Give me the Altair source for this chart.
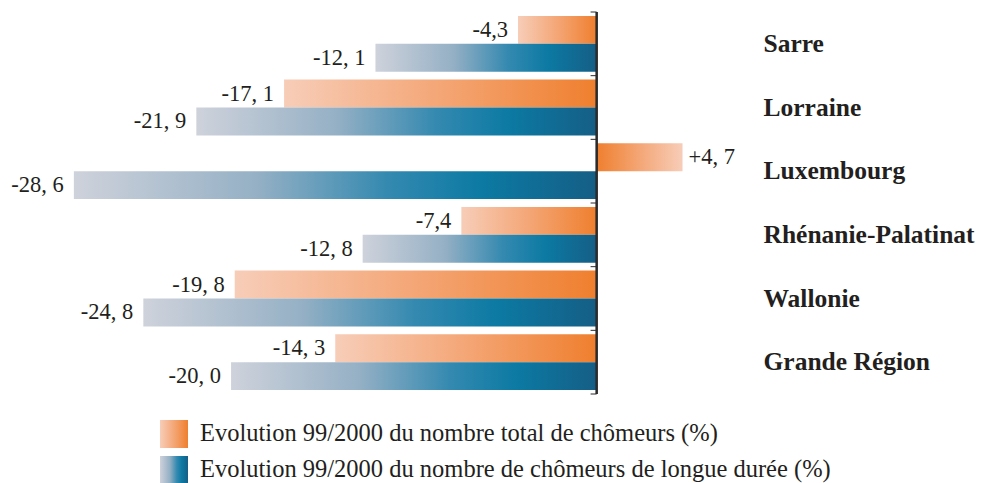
import altair as alt
import pandas as pd

regions = ["Sarre", "Lorraine", "Luxembourg", "Rhénanie-Palatinat", "Wallonie", "Grande Région"]
total_change = [-4.3, -17.1, 4.7, -7.4, -19.8, -14.3]
total_labels = ["-4,3", "-17, 1", "+4, 7", "-7,4", "-19, 8", "-14, 3"]
longterm_change = [-12.1, -21.9, -28.6, -12.8, -24.8, -20.0]
longterm_labels = ["-12, 1", "-21, 9", "-28, 6", "-12, 8", "-24, 8", "-20, 0"]
series = [
    "Evolution 99/2000 du nombre total de chômeurs (%)",
    "Evolution 99/2000 du nombre de chômeurs de longue durée (%)",
]

rows = []
for r, v, l in zip(regions, total_change, total_labels):
    rows.append({"region": r, "series": series[0], "value": v, "label": l})
for r, v, l in zip(regions, longterm_change, longterm_labels):
    rows.append({"region": r, "series": series[1], "value": v, "label": l})
df = pd.DataFrame(rows)

FONT = "Liberation Serif"
TXT = "#231f20"

orange_stops = [("#f7cdb8", 0), ("#f4a676", 0.5), ("#ef7f2e", 1)]
blue_stops = [("#ced2db", 0), ("#95b0c5", 0.35), ("#3489b0", 0.6), ("#0c7aa3", 0.78), ("#155e86", 1)]


def grad(stops, reverse=False):
    return alt.Gradient(
        gradient="linear",
        stops=[alt.GradientStop(color=c, offset=o) for c, o in stops],
        x1=1 if reverse else 0, x2=0 if reverse else 1, y1=0, y2=0,
    )


W = 658
H = 382
xscale = alt.Scale(domain=[-31, 5], nice=False, zero=False)
yscale = alt.Scale(domain=regions, paddingInner=0, paddingOuter=0)
yoff = alt.YOffset("series:N", scale=alt.Scale(domain=series, paddingInner=0, paddingOuter=0.14))

base = alt.Chart(df)

y_enc = alt.Y("region:N", scale=yscale, title=None,
              axis=alt.Axis(orient="right", domain=False, ticks=False, grid=False,
                            labelPadding=75, labelAlign="left", labelFont=FONT,
                            labelFontSize=25.5, labelFontWeight="bold", labelColor=TXT,
                            labelLimit=400))
x_enc = alt.X("value:Q", scale=xscale, axis=None)

orange_neg = base.transform_filter(
    (alt.datum.series == series[0]) & (alt.datum.value < 0)
).mark_bar(color=grad(orange_stops)).encode(x=x_enc, x2=alt.datum(0), y=y_enc, yOffset=yoff)

orange_pos = base.transform_filter(
    (alt.datum.series == series[0]) & (alt.datum.value >= 0)
).mark_bar(color=grad(orange_stops, reverse=True)).encode(x=x_enc, x2=alt.datum(0), y=y_enc, yOffset=yoff)

blue = base.transform_filter(
    alt.datum.series == series[1]
).mark_bar(color=grad(blue_stops)).encode(x=x_enc, x2=alt.datum(0), y=y_enc, yOffset=yoff)

lab_neg = base.transform_filter(alt.datum.value < 0).mark_text(
    align="right", baseline="middle", dx=-10, font=FONT, fontSize=22.5, color=TXT
).encode(x=x_enc, y=y_enc, yOffset=yoff, text="label:N")

lab_pos = base.transform_filter(alt.datum.value >= 0).mark_text(
    align="left", baseline="middle", dx=6, font=FONT, fontSize=22.5, color=TXT
).encode(x=x_enc, y=y_enc, yOffset=yoff, text="label:N")

axis_df = pd.DataFrame({"region": regions})
axis_line = alt.Chart(axis_df).mark_rule(color="#2b2b2b", strokeWidth=1.5).encode(x=alt.datum(0))
ticks = alt.Chart(axis_df).mark_rule(color="#2b2b2b", strokeWidth=1).encode(
    x=alt.datum(-0.33), x2=alt.datum(0),
    y=alt.Y("region:N", scale=yscale, bandPosition=0),
)
last_tick = alt.Chart(axis_df).transform_filter(
    alt.datum.region == regions[-1]
).mark_rule(color="#2b2b2b", strokeWidth=1).encode(
    x=alt.datum(-0.33), x2=alt.datum(0),
    y=alt.Y("region:N", scale=yscale, bandPosition=1),
)

leg_df = pd.DataFrame({"series": series})


def legend_item(i, stops, ytop):
    d = alt.Chart(leg_df).transform_filter(alt.datum.series == series[i])
    sw = d.mark_rect(color=grad(stops)).encode(
        x=alt.value(130), x2=alt.value(158), y=alt.value(ytop), y2=alt.value(ytop + 28)
    )
    tx = d.mark_text(align="left", baseline="middle", font=FONT, fontSize=24.5, color=TXT).encode(
        x=alt.value(170), y=alt.value(ytop + 14), text="series:N"
    )
    return sw + tx


chart = alt.layer(
    orange_neg, orange_pos, blue, lab_neg, lab_pos, axis_line, ticks, last_tick,
    legend_item(0, orange_stops, 408), legend_item(1, blue_stops, 444),
).properties(
    width=W, height=H,
    autosize=alt.AutoSizeParams(type="none"),
    padding={"left": 22, "top": 4, "right": 288, "bottom": 89},
    background="white",
).configure(font=FONT).configure_view(stroke=None)

chart.save("out.html", embed_options={"renderer": "svg", "actions": False})
